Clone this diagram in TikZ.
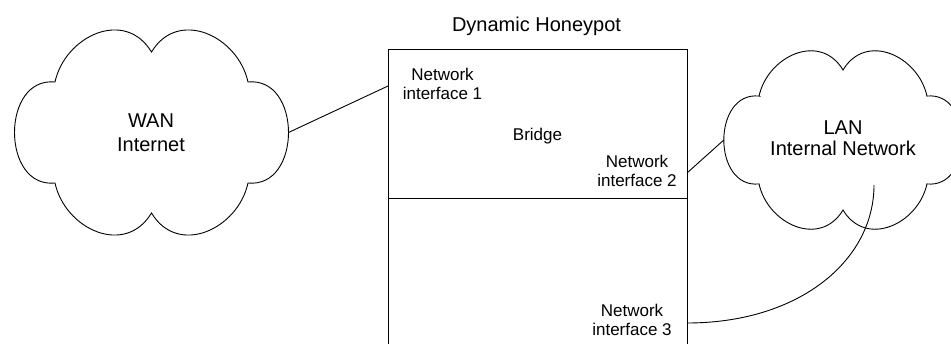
\documentclass[tikz,border=0pt]{standalone}
\usepackage{fontspec}
\setmainfont{Liberation Sans}

\tikzset{
  wire/.style={line width=0.9pt, draw=black},
  % six-lobed cloud outline, centred on the pic origin
  cloudpic/.pic={
    \draw[wire] (-96.5,-50.5)
      .. controls (-86.5,-96.5) and (-26.5,-124.5) .. (0,-80.5)
      .. controls (26.5,-124.5) and (86.5,-96.5) .. (96.5,-50.5)
      .. controls (150.5,-56) and (150.5,56) .. (96.5,50.5)
      .. controls (86.5,96.5) and (26.5,124.5) .. (0,80.5)
      .. controls (-26.5,124.5) and (-86.5,96.5) .. (-96.5,50.5)
      .. controls (-150.5,56) and (-150.5,-56) .. cycle;
    \coordinate (-east) at (137,0);
    \coordinate (-west) at (-137,0);
  },
  biglabel/.style={font=\fontsize{20}{24}\selectfont, align=center, inner sep=0pt},
  smalllabel/.style={font=\fontsize{17}{19}\selectfont, align=center, inner sep=0pt},
}

\begin{document}
\begin{tikzpicture}[x=1pt, y=-1pt]
  \useasboundingbox (0,0) rectangle (951,343);

  % clouds
  \pic (wan) at (151.5,132.5) {cloudpic};
  \pic[scale=0.87] (lan) at (843,140) {cloudpic};
  \node[biglabel] (wantext) at (151,132.4) {WAN\\Internet};
  \node[biglabel, font=\fontsize{20}{21}\selectfont] (lantext) at (843,138.4) {LAN\\Internal Network};

  % honeypot box
  \node[wire, draw, anchor=north west, minimum width=299pt, minimum height=320pt,
        inner sep=0pt, outer sep=0pt] (honeypot) at (388,49) {};
  \node[biglabel, anchor=base] (title) at (536.5,31) {Dynamic Honeypot};
  \coordinate (divL) at (388,198);
  \coordinate (divR) at (687,198);
  \draw[wire] (divL) -- (divR);

  \node[smalllabel] (nic1text) at (442.5,84.4) {Network\\interface 1};
  \node[smalllabel] (bridge) at (537.5,135.7) {Bridge};
  \node[smalllabel] (nic2text) at (637,171) {Network\\interface 2};
  \node[smalllabel] (nic3text) at (632,320) {Network\\interface 3};

  % ports on the box edge
  \coordinate (nic1) at (388,86);
  \coordinate (nic2) at (687,173);
  \coordinate (nic3) at (687,323);
  \coordinate (lanport) at (874,185);

  % links
  \draw[wire] (wan-east) -- (nic1);
  \draw[wire] (nic2) -- (lan-west);
  \draw[wire] (nic3) .. controls +(113,0) and +(0,75) .. (lanport);
\end{tikzpicture}
\end{document}
